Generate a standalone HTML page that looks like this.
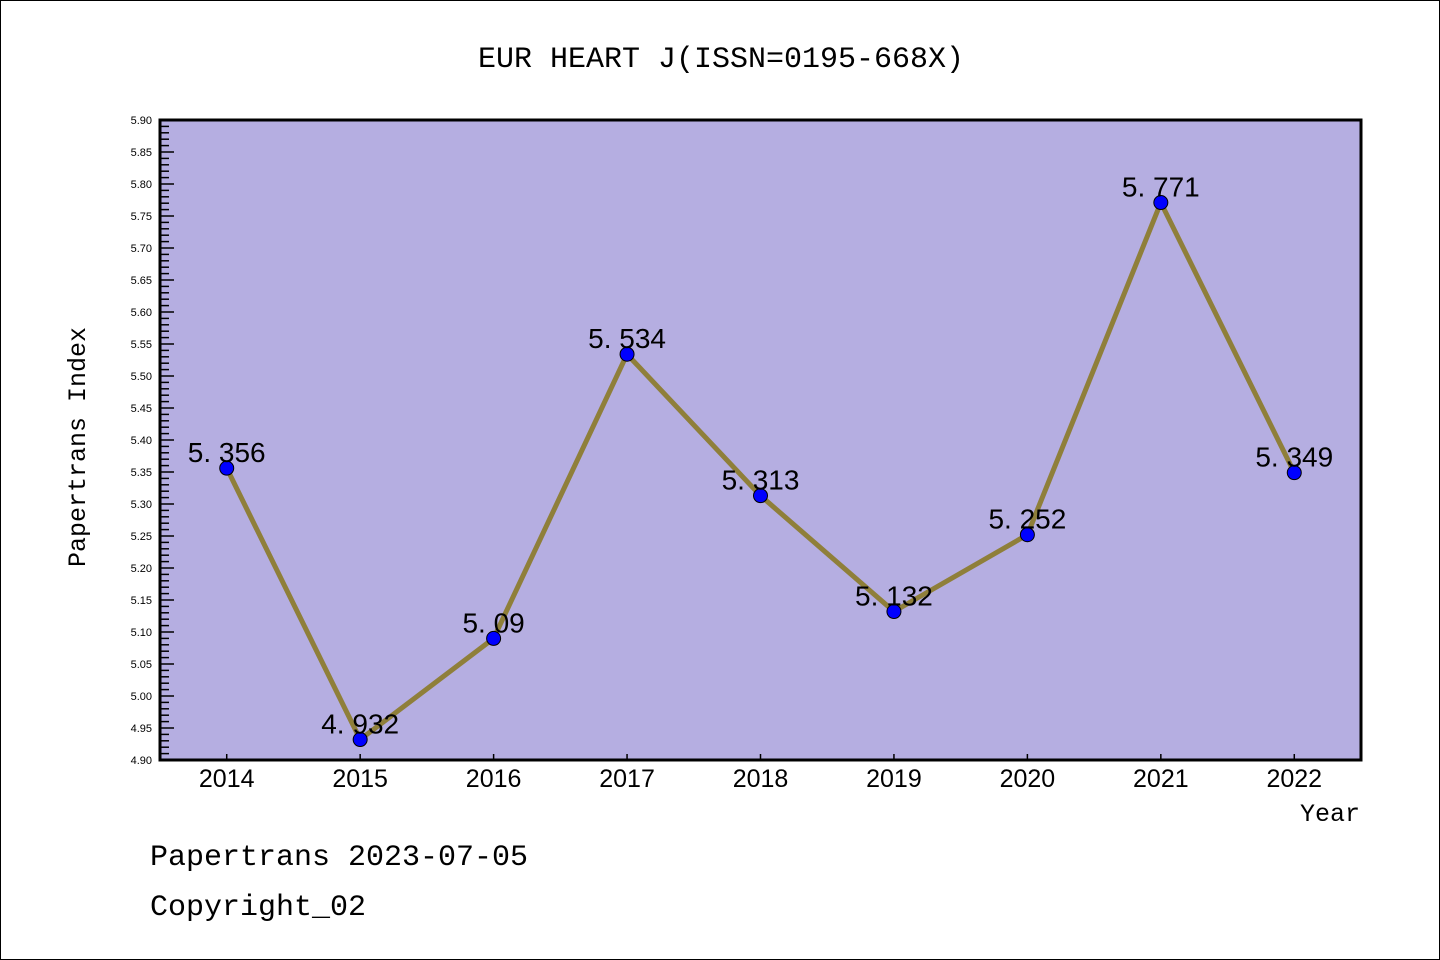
<!DOCTYPE html>
<html><head><meta charset="utf-8"><style>
html,body{margin:0;padding:0;background:#fff}
#wrap{position:relative;width:1438px;height:958px;border:1px solid #000;overflow:hidden}
text{font-family:"Liberation Mono","WenQuanYi Zen Hei",monospace}
</style></head><body>
<div id="wrap">
<svg id="chart" width="1438" height="958"></svg>
</div>
<script>
const years=["2014","2015","2016","2017","2018","2019","2020","2021","2022"];
const values=[5.356,4.932,5.09,5.534,5.313,5.132,5.252,5.771,5.349];
const valueLabels=["5. 356","4. 932","5. 09","5. 534","5. 313","5. 132","5. 252","5. 771","5. 349"];
const yTicks=[4.90,4.95,5.00,5.05,5.10,5.15,5.20,5.25,5.30,5.35,5.40,5.45,5.50,5.55,5.60,5.65,5.70,5.75,5.80,5.85,5.90];
const NS="http://www.w3.org/2000/svg";
const svg=document.getElementById('chart');
const L=159,R=1360,T=119,B=759,ymin=4.9,ymax=5.9;
const band=(R-L)/years.length;
function xs(i){return L+band*(i+0.5);}
function ys(v){return B-(v-ymin)/(ymax-ymin)*(B-T);}
function mk(tag,attrs,parent){const e=document.createElementNS(NS,tag);for(const k in attrs)e.setAttribute(k,attrs[k]);(parent||svg).appendChild(e);return e;}
function txt(s,attrs,name){const e=mk('text',attrs);e.textContent=s;return e;}
let bg=mk('rect',{x:L,y:T,width:R-L,height:B-T,fill:'#b5aee1'});


txt('EUR HEART J(ISSN=0195-668X)',{x:720,y:66,'font-size':30,'text-anchor':'middle'},'chart-title');
// minor ticks
for(let k=0;k<=100;k++){const v=ymin+k*0.01;const y=ys(v);const major=k%5===0;
 const t=mk('line',{x1:L,x2:L+(major?14:9),y1:y,y2:y,stroke:'#000','stroke-width':1.5});
 
 }
yTicks.forEach(v=>{txt(v.toFixed(2),{x:151,y:ys(v)+4,'font-size':11,'text-anchor':'end',style:'font-family:"Liberation Sans",sans-serif'},'y-tick-label');});
years.forEach((y,i)=>{
 const t=mk('line',{x1:xs(i),x2:xs(i),y1:B,y2:B-6,stroke:'#000','stroke-width':1.5});
 
 
 txt(y,{x:xs(i),y:786,'font-size':25,'text-anchor':'middle',style:'font-family:"Liberation Sans",sans-serif'},'x-tick-label');
});
let frame=mk('rect',{x:L,y:T,width:R-L,height:B-T,fill:'none',stroke:'#000','stroke-width':3});


let pts=values.map((v,i)=>xs(i)+','+ys(v)).join(' ');
let line=mk('polyline',{points:pts,fill:'none',stroke:'#8f7f3a','stroke-width':5,'stroke-linejoin':'round'});


values.forEach((v,i)=>{
 const c=mk('circle',{cx:xs(i),cy:ys(v),r:7,fill:'#0000ff',stroke:'#000','stroke-width':1});
 
 
});
values.forEach((v,i)=>{
 txt(valueLabels[i],{x:xs(i),y:ys(v)-6,'font-size':28,'text-anchor':'middle',style:'font-family:"Liberation Sans",sans-serif'},'value-label');
});
txt('Papertrans Index',{x:0,y:0,'font-size':25,'text-anchor':'middle',transform:'translate(84,446) rotate(-90)'},'y-axis-title');
txt('Year',{x:1359,y:820,'font-size':25,'text-anchor':'end'},'x-axis-title');
txt('Papertrans 2023-07-05',{x:149,y:864,'font-size':30},'footer-date');
txt('Copyright_02',{x:149,y:914,'font-size':30},'footer-copyright');
</script>
</body></html>
